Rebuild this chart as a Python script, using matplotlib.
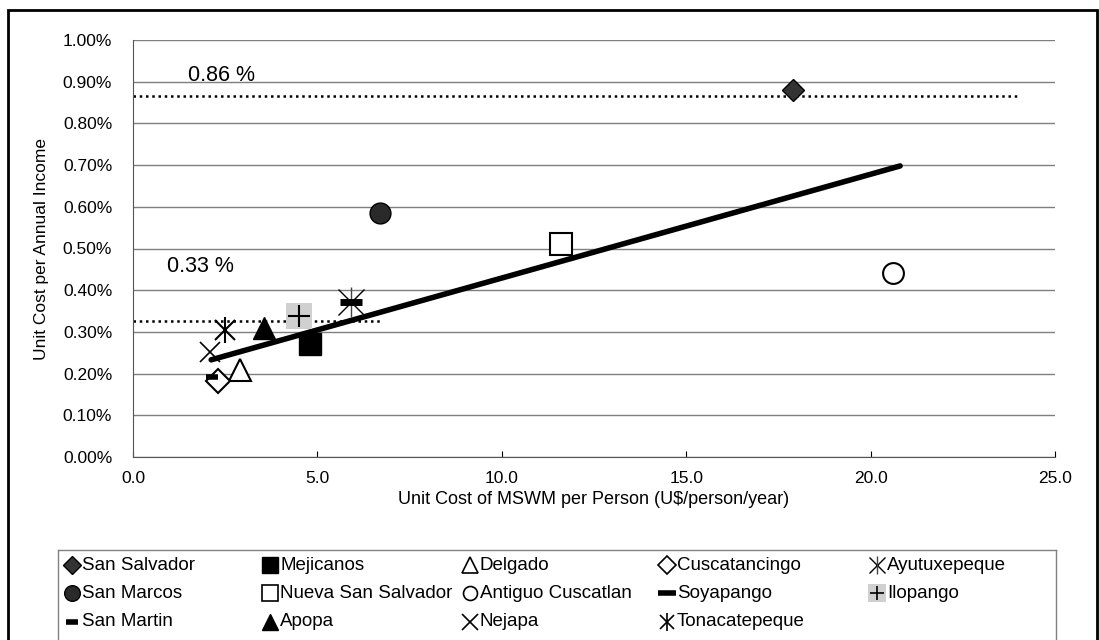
import numpy as np
import matplotlib
matplotlib.use('Agg')
import matplotlib.pyplot as plt
from matplotlib.patches import Rectangle
from matplotlib.ticker import FuncFormatter

plt.rcParams['font.family'] = ['Liberation Sans', 'DejaVu Sans']

# ===== data =====
names = ['San Salvador', 'Mejicanos', 'Delgado', 'Cuscatancingo', 'Ayutuxepeque',
         'San Marcos', 'Nueva San Salvador', 'Antiguo Cuscatlan', 'Soyapango', 'Ilopango',
         'San Martin', 'Apopa', 'Nejapa', 'Tonacatepeque']
cost = [17.9, 4.8, 2.9, 2.3, 5.9,
        6.7, 11.6, 20.6, 5.9, 4.5,
        2.15, 3.55, 2.1, 2.5]
ratio = [0.880, 0.271, 0.209, 0.183, 0.372,
         0.585, 0.510, 0.441, 0.372, 0.338,
         0.192, 0.309, 0.252, 0.305]

trend_x = [2.12, 20.8]
trend_y = [0.233, 0.698]

avg_high = 0.865
avg_high_x = [0.0, 24.0]
avg_low = 0.326
avg_low_x = [0.0, 6.75]

xticks = [0, 5, 10, 15, 20, 25]
yticks = [0.0, 0.1, 0.2, 0.3, 0.4, 0.5, 0.6, 0.7, 0.8, 0.9, 1.0]

# marker layers per municipality (drawn one over the other)
styles = {
    'San Salvador':       [dict(marker='D', ms=11.5, mfc='#333333', mec='black', mew=1)],
    'Mejicanos':          [dict(marker='s', ms=16, mfc='black', mec='black', mew=1)],
    'Delgado':            [dict(marker='^', ms=16, mfc='white', mec='black', mew=1.5)],
    'Cuscatancingo':      [dict(marker='D', ms=12, mfc='white', mec='black', mew=1.5)],
    'Ayutuxepeque':       [dict(marker='x', ms=19, mec='black', mew=1),
                           dict(marker='|', ms=22, mec='#444444', mew=1)],
    'San Marcos':         [dict(marker='o', ms=15, mfc='#2a2a2a', mec='black', mew=1)],
    'Nueva San Salvador': [dict(marker='s', ms=16, mfc='white', mec='black', mew=1.5)],
    'Antiguo Cuscatlan':  [dict(marker='o', ms=15, mfc='white', mec='black', mew=1.5)],
    'Soyapango':          [dict(marker='_', ms=16, mec='black', mew=5)],
    'Ilopango':           [dict(marker='s', ms=19, mfc='#d0d0d0', mec='none', mew=0),
                           dict(marker='+', ms=16, mec='black', mew=1.5)],
    'San Martin':         [dict(marker='_', ms=8, mec='black', mew=4)],
    'Apopa':              [dict(marker='^', ms=16, mfc='black', mec='black', mew=1)],
    'Nejapa':             [dict(marker='x', ms=15, mec='black', mew=1.2)],
    'Tonacatepeque':      [dict(marker='x', ms=15, mec='black', mew=1.5),
                           dict(marker='|', ms=19, mec='black', mew=1.5)],
}
# legend keeps the same shapes, smaller
legend_scale = {'San Salvador': 0.8, 'Mejicanos': 0.75, 'Delgado': 0.7, 'Cuscatancingo': 0.75,
                'Ayutuxepeque': 0.6, 'San Marcos': 0.75, 'Nueva San Salvador': 0.7,
                'Antiguo Cuscatlan': 0.67, 'Soyapango': 0.8, 'Ilopango': 0.65,
                'San Martin': 1.0, 'Apopa': 0.7, 'Nejapa': 0.75, 'Tonacatepeque': 0.7}

W, H = 1099, 640
fig = plt.figure(figsize=(W / 100, H / 100), dpi=100)

# outer frame
fig.add_artist(Rectangle((8 / W, -0.02), 1089 / W, 1.02 - 10 / H, transform=fig.transFigure,
                         fill=False, edgecolor='black', linewidth=2))

ax = fig.add_axes([133 / W, 1 - 457 / H, 922 / W, 417 / H])
ax.set_xlim(0, 25)
ax.set_ylim(0, 1.0)
ax.set_xticks(xticks)
ax.set_yticks(yticks)
ax.xaxis.set_major_formatter(FuncFormatter(lambda v, p: f'{v:.1f}'))
ax.yaxis.set_major_formatter(FuncFormatter(lambda v, p: f'{v:.2f}%'))
ax.tick_params(axis='x', direction='in', length=4, pad=10, labelsize=12.5)
ax.tick_params(axis='y', length=0, pad=15, labelsize=12.5)
ax.grid(axis='y', color='#7f7f7f', linewidth=1)
ax.set_axisbelow(True)
for s in ['top', 'right']:
    ax.spines[s].set_visible(False)
ax.spines['left'].set_color('#555555')
ax.spines['bottom'].set_color('#555555')

ax.set_xlabel('Unit Cost of MSWM per Person (U$/person/year)', fontsize=13, labelpad=4)
ax.set_ylabel('Unit Cost per Annual Income', fontsize=12.5, labelpad=10)

# reference lines
ax.plot(avg_high_x, [avg_high, avg_high], color='black', linestyle=(0, (1, 1.5)), linewidth=1.8)
ax.plot(avg_low_x, [avg_low, avg_low], color='black', linestyle=(0, (1, 1.5)), linewidth=1.8)
ax.text(1.49, 0.914, '0.86 %', fontsize=15.5, va='center')
ax.text(0.92, 0.456, '0.33 %', fontsize=15.5, va='center')

# trend line
ax.plot(trend_x, trend_y, color='black', linewidth=4, solid_capstyle='round', zorder=4)

# points
for n, x, y in zip(names, cost, ratio):
    for st in styles[n]:
        ax.plot(x, y, linestyle='none', zorder=6, **st)

# ===== legend (Excel style, equal column widths, row-wise order) =====
lax = fig.add_axes([58 / W, 0, 998 / W, 90 / H])
lax.set_xlim(0, 998)
lax.set_ylim(90, 0)
lax.set_xticks([])
lax.set_yticks([])
for s in ['left', 'right', 'top']:
    lax.spines[s].set_color('#808080')
    lax.spines[s].set_linewidth(1)
lax.spines['bottom'].set_visible(False)
lax.patch.set_alpha(0)

col_x = [14, 212, 412, 609, 819]
row_y = [15, 43, 72]
for i, n in enumerate(names):
    r, c = divmod(i, 5)
    for st in styles[n]:
        st = dict(st)
        st['ms'] = st['ms'] * legend_scale[n]
        if st['marker'] == '_':
            st['mew'] = 4
        else:
            st['mew'] = min(st.get('mew', 1), 1.2)
        lax.plot(col_x[c], row_y[r], linestyle='none', **st)
    lax.text(col_x[c] + 10, row_y[r], n, fontsize=13.5, va='center', ha='left')

fig.savefig('out.png', dpi=100)
